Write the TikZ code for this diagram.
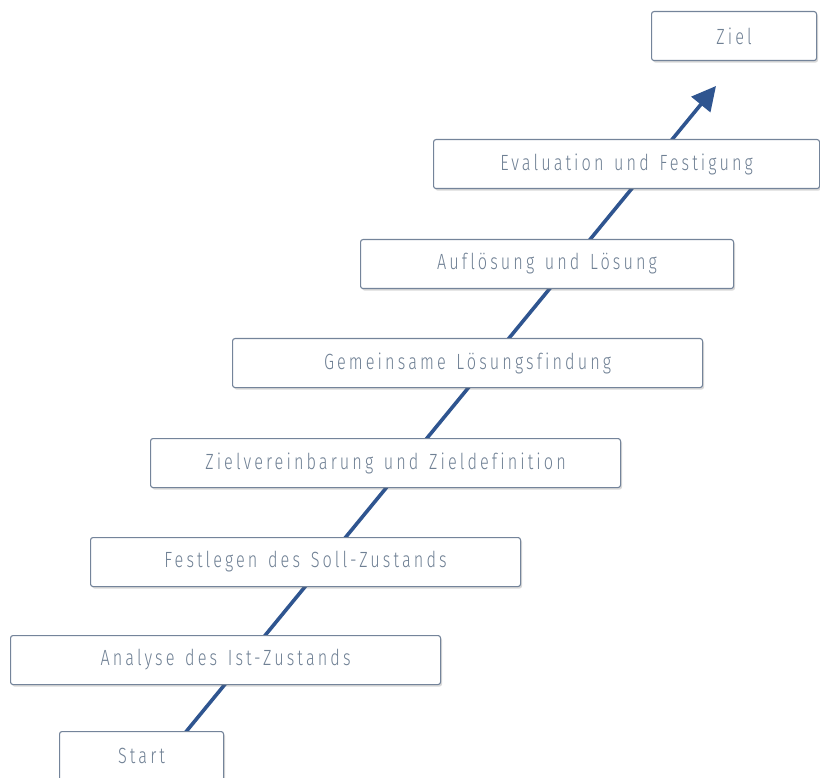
\documentclass[tikz,border=0pt]{standalone}
\usepackage{fontspec}
\setmainfont{Fira Sans Light}[FakeStretch=0.74, LetterSpace=14, WordSpace=1.4, Ligatures=NoCommon]
\usetikzlibrary{arrows.meta,shadows}
\definecolor{stepline}{HTML}{74849A}
\definecolor{steptext}{HTML}{6F8094}
\definecolor{flow}{HTML}{2F5590}
\begin{document}
\begin{tikzpicture}[x=1pt,y=-1pt,
  stepbox/.style={draw=stepline, line width=1.1pt, fill=white, rounded corners=2.5pt,
    text=steptext, font=\fontsize{22}{26}\selectfont, inner sep=0pt, anchor=north west,
    minimum height=49pt,
    drop shadow={shadow xshift=1.5pt, shadow yshift=-2pt, opacity=0.25, fill=black!60}},
  flowline/.style={draw=flow, line width=3.6pt, -{Triangle[length=24pt,width=24pt]}}]
\useasboundingbox (0,0) rectangle (820,778);
% rising path behind the steps
\coordinate (pathstart) at (185,733);
\coordinate (pathend) at (716,86);
\draw[flowline] (pathstart) -- (pathend);
% steps, bottom to top
\node[stepbox, minimum width=164pt] (start) at (59,731) {Start};
\node[stepbox, minimum width=430pt] (analyse) at (10,635) {Analyse des Ist-Zustands};
\node[stepbox, minimum width=430pt] (soll) at (90,537) {Festlegen des Soll-Zustands};
\node[stepbox, minimum width=470pt] (zielver) at (150,438) {Zielvereinbarung und Zieldefinition};
\node[stepbox, minimum width=470pt] (gemeinsam) at (232,338) {Gemeinsame Lösungsfindung};
\node[stepbox, minimum width=373pt] (aufloesung) at (360,239) {Auflösung und Lösung};
\node[stepbox, minimum width=386pt] (evaluation) at (433,139) {Evaluation und Festigung};
\node[stepbox, minimum width=165pt] (ziel) at (651,11) {Ziel};
\end{tikzpicture}
\end{document}
